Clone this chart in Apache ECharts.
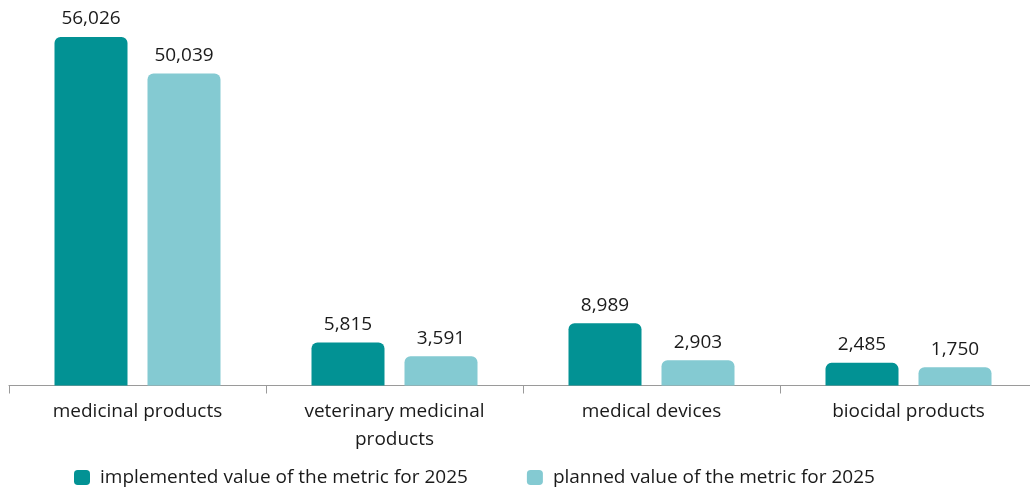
<!DOCTYPE html>
<html>
<head>
<meta charset="utf-8">
<script src="https://cdn.jsdelivr.net/npm/echarts@6/dist/echarts.min.js"></script>
<style>
  html, body { margin: 0; padding: 0; background: #ffffff; }
  #chart { width: 1030px; height: 490px; }
</style>
</head>
<body>
<div id="chart"></div>
<script>
// Categories and values
const categories = ['medicinal products', 'veterinary medicinal\nproducts', 'medical devices', 'biocidal products'];
const implemented = [56026, 5815, 8989, 2485];
const planned = [50039, 3591, 2903, 1750];
const seriesNames = ['implemented value of the metric for 2025', 'planned value of the metric for 2025'];
const colors = ['#029294', '#84cad2'];

// Value axis: bars rise from the axis floor, which sits slightly below zero
const axisMin = -1233;
const axisMax = 56026;

const fmt = v => v.toLocaleString('en-US');

function makeRender(seriesIdx) {
  return function (params, api) {
    const cat = api.value(0);
    const val = api.value(1);
    const barW = 73;
    const gap = 20;
    const center = api.coord([cat, axisMin])[0];
    const x = seriesIdx === 0 ? center - gap / 2 - barW : center + gap / 2;
    const top = api.coord([cat, val])[1];
    const base = api.coord([cat, axisMin])[1];
    return {
      type: 'group',
      children: [
        {
          type: 'rect',
          shape: { x: x, y: top, width: barW, height: base - top, r: [6, 6, 0, 0] },
          style: { fill: colors[seriesIdx] }
        },
        {
          type: 'text',
          style: {
            text: fmt(val),
            x: x + barW / 2,
            y: top - 18,
            align: 'center',
            verticalAlign: 'middle',
            fill: '#1a1a1a',
            font: '19px "Open Sans", sans-serif'
          }
        }
      ]
    };
  };
}

const chart = echarts.init(document.getElementById('chart'), null, { renderer: 'canvas' });
chart.setOption({
  animation: false,
  color: colors,
  textStyle: { fontFamily: '"Open Sans", sans-serif' },
  grid: { left: 9, width: 1028, top: 37, bottom: 104.5, containLabel: false, outerBoundsMode: 'none' },
  legend: {
    data: seriesNames.map((n, i) => ({ name: n, icon: 'roundRect', itemStyle: { color: colors[i] } })),
    left: 74,
    top: 468,
    padding: 0,
    itemWidth: 16,
    itemHeight: 15,
    itemGap: 59,
    textStyle: { fontSize: 19, color: '#1a1a1a', padding: [0, 0, 0, 5] }
  },
  xAxis: {
    type: 'category',
    data: categories,
    axisLine: { onZero: false, lineStyle: { color: '#9a9a9a', width: 1.2 } },
    axisTick: { show: true, alignWithLabel: false, length: 8, lineStyle: { color: '#9a9a9a' } },
    axisLabel: { fontSize: 19, color: '#1a1a1a', margin: 12, lineHeight: 28, interval: 0 }
  },
  yAxis: {
    type: 'value',
    min: axisMin,
    max: axisMax,
    show: false,
    splitLine: { show: false }
  },
  series: [
    {
      name: seriesNames[0],
      type: 'custom',
      itemStyle: { color: colors[0] },
      renderItem: makeRender(0),
      encode: { x: 0, y: 1 },
      clip: false,
      data: implemented.map((v, i) => [i, v])
    },
    {
      name: seriesNames[1],
      type: 'custom',
      itemStyle: { color: colors[1] },
      renderItem: makeRender(1),
      encode: { x: 0, y: 1 },
      clip: false,
      data: planned.map((v, i) => [i, v])
    }
  ]
});
</script>
</body>
</html>
